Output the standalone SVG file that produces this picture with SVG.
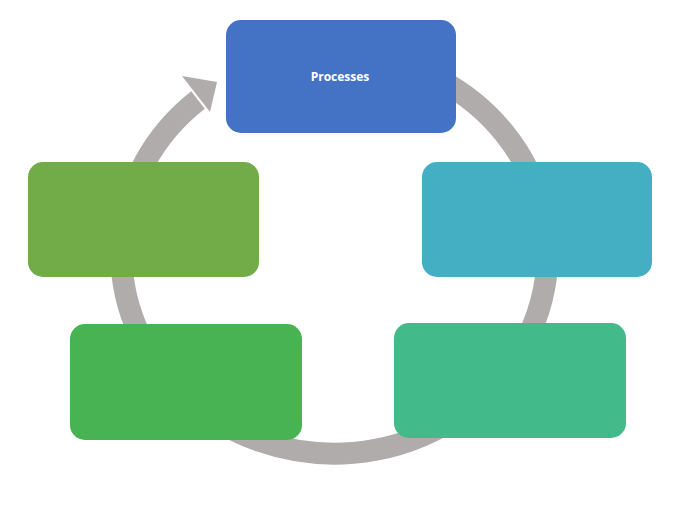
<svg xmlns="http://www.w3.org/2000/svg" width="680" height="510" viewBox="0 0 680 510">
<style>
.box{stroke:none}
.lbl{font-family:"Open Sans","Liberation Sans",sans-serif;font-size:12px;font-weight:bold;fill:#fff;text-anchor:middle}
</style>
<rect width="680" height="510" fill="#fff"/>
<g id="connectors">
<path d="M 198 100 A 213 200 0 1 0 440 80" fill="none" stroke="#afacab" stroke-width="22"/>
<polygon points="182,76 217,82 210,112" fill="#afacab"/>
</g>
<g id="processes"><rect class="box" x="226" y="20" width="230" height="113" rx="15" fill="#4472c4"/><text class="lbl" x="340" y="81">Processes</text></g>
<g id="node2"><rect class="box" x="422" y="162" width="230" height="115" rx="15" fill="#44aec3"/></g>
<g id="node3"><rect class="box" x="394" y="323" width="232" height="115" rx="15" fill="#42ba8a"/></g>
<g id="node4"><rect class="box" x="70" y="324" width="232" height="116" rx="15" fill="#47b352"/></g>
<g id="node5"><rect class="box" x="28" y="162" width="231" height="115" rx="15" fill="#72ac48"/></g>
</svg>
